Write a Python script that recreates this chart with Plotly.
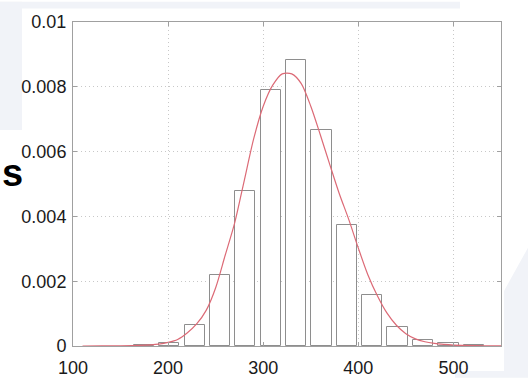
import plotly.graph_objects as go

# Histogram bins (centres) and normalised heights
bin_centers = [174.5, 201.2, 227.9, 254.5, 281.2, 307.9, 334.6, 361.3,
               387.9, 414.6, 441.3, 468.0, 494.7, 521.4]
bin_heights = [0.00004, 0.0001, 0.00065, 0.0022, 0.00478, 0.0079, 0.00882,
               0.00668, 0.00373, 0.00157, 0.00058, 0.00018, 0.00008, 0.00003]
bar_width = 21.3

# Fitted density curve
curve_x = [110, 130, 150, 170, 190, 200, 210, 220, 230, 240, 250, 260, 270,
           280, 290, 300, 310, 320, 330, 340, 350, 360, 370, 380, 390, 400,
           410, 420, 430, 440, 450, 460, 470, 480, 490, 500, 520, 550]
curve_y = [0.0, 0.000002, 0.000006, 0.00002, 0.00006, 0.00011, 0.0002,
           0.0004, 0.00068, 0.0011, 0.0018, 0.0028, 0.0038, 0.0051, 0.0064,
           0.0074, 0.00805, 0.0084, 0.0084, 0.0081, 0.0074, 0.00652, 0.0056,
           0.0047, 0.0039, 0.00302, 0.0022, 0.00155, 0.00102, 0.00064,
           0.00038, 0.00022, 0.00013, 0.00008, 0.00005, 0.00003, 0.00001,
           0.000002]

x_ticks = [100, 200, 300, 400, 500]
y_ticks = [0, 0.002, 0.004, 0.006, 0.008, 0.01]
y_tick_text = ["0", "0.002", "0.004", "0.006", "0.008", "0.01"]

W, H = 528, 390
L, R, T, B = 73, 27, 21, 33
pw, ph = W - L - R, H - T - B


def px(x):
    return (x - L) / pw


def py(y):
    return (H - B - y) / ph


fig = go.Figure()
fig.add_trace(go.Bar(
    x=bin_centers, y=bin_heights, width=bar_width,
    marker=dict(color="white", line=dict(color="#8e8e8e", width=1)),
    showlegend=False,
))
fig.add_trace(go.Scatter(
    x=curve_x, y=curve_y, mode="lines",
    line=dict(color="#dc6a76", width=1.2, shape="spline", smoothing=0.8),
    showlegend=False,
))

bg = "#f1f3f8"
shapes = [
    dict(type="rect", xref="paper", yref="paper", layer="below",
         x0=px(0), x1=px(460), y0=py(7), y1=py(0),
         fillcolor=bg, line=dict(width=0)),
    dict(type="rect", xref="paper", yref="paper", layer="below",
         x0=px(0), x1=px(22), y0=py(133), y1=py(0),
         fillcolor=bg, line=dict(width=0)),
    dict(type="path", xref="paper", yref="paper", layer="below",
         path=(f"M {px(504)} {py(300)} L {px(528)} {py(255)} L {px(528)} {py(390)} "
               f"L {px(455)} {py(390)} L {px(455)} {py(383)} L {px(504)} {py(383)} Z"),
         fillcolor=bg, line=dict(width=0)),
]

axis_common = dict(
    showline=True, linecolor="#a0a0a0", linewidth=1, mirror="ticks",
    ticks="inside", ticklen=4, tickcolor="#a0a0a0",
    showgrid=True, gridcolor="#c8c8c8", griddash="1px,3px", gridwidth=1,
    zeroline=False,
    tickfont=dict(family="Liberation Sans, Arial, sans-serif", size=18, color="#1a1a1a"),
)

fig.update_layout(
    width=W, height=H,
    margin=dict(l=L, r=R, t=T, b=B, pad=0),
    paper_bgcolor="white", plot_bgcolor="white",
    bargap=0,
    shapes=shapes,
    xaxis=dict(range=[100, 550], tickvals=x_ticks, ticklabelstandoff=5, **axis_common),
    yaxis=dict(range=[0, 0.01], tickvals=y_ticks, ticktext=y_tick_text,
               ticklabelstandoff=2, **axis_common),
    annotations=[dict(text="<b>s</b>", xref="paper", yref="paper",
                      x=px(0), y=py(178), xanchor="left", yanchor="middle",
                      showarrow=False,
                      font=dict(family="Liberation Sans, Arial, sans-serif",
                                size=38, color="black"))],
)

fig.write_html("out.html")
